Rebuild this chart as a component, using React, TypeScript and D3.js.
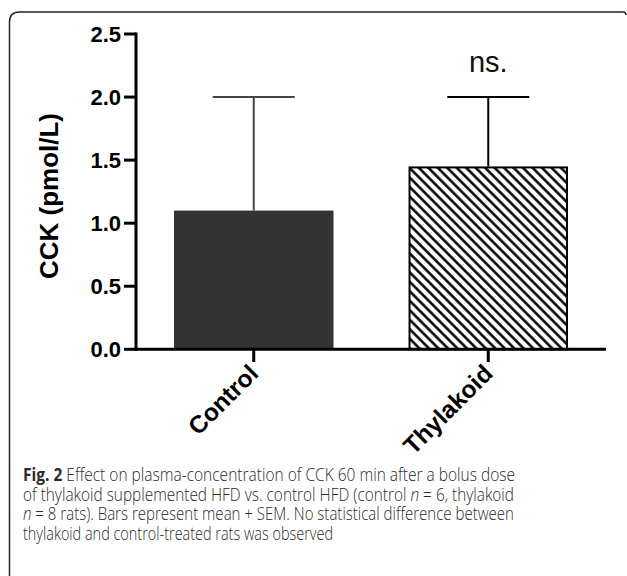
import React from "react";
import * as d3 from "d3";

const categories = ["Control", "Thylakoid"];
const means = [1.1, 1.45];
const sems = [0.9, 0.55];
const yTicks = [0, 0.5, 1.0, 1.5, 2.0, 2.5];
const yLabel = "CCK (pmol/L)";
const sigLabel = "ns.";

const W = 627;
const H = 576;

export default function App() {
  const y = d3.scaleLinear().domain([0, 2.5]).range([349.3, 34]);
  const x = d3
    .scaleBand<string>()
    .domain(categories)
    .range([136, 606])
    .paddingInner(0.32)
    .paddingOuter(0.162);
  const bw = x.bandwidth();
  const capHalf = bw * 0.257;
  const font = "'Liberation Sans', Arial, Helvetica, sans-serif";
  const capFont = "'Open Sans', 'Noto Sans', sans-serif";

  return (
    <svg
      width={W}
      height={H}
      style={{ position: "absolute", left: 0, top: 0 }}
      xmlns="http://www.w3.org/2000/svg"
    >
      <defs>
        <pattern
          id="hatch"
          patternUnits="userSpaceOnUse"
          width={6.7}
          height={6.7}
          patternTransform="rotate(45)"
        >
          <rect width={6.7} height={6.7} fill="#fff" />
          <line x1={0} y1={3.35} x2={6.7} y2={3.35} stroke="#000" strokeWidth={2.5} />
        </pattern>
      </defs>
      <rect width={W} height={H} fill="#fff" />
      {/* frame */}
      <path
        d={`M9.5,${H} L9.5,22 Q9.5,12 19.5,12 L623,12 Q626,12 626,15`}
        fill="none"
        stroke="#222"
        strokeWidth={1.5}
      />

      {/* bars */}
      {categories.map((c, i) => {
        const x0 = x(c)!;
        const top = y(means[i]);
        return i === 0 ? (
          <rect key={c} x={x0} y={top} width={bw} height={y(0) - top} fill="#333333" />
        ) : (
          <rect
            key={c}
            x={x0 + 1}
            y={top + 1}
            width={bw - 2}
            height={y(0) - top - 1}
            fill="url(#hatch)"
            stroke="#000"
            strokeWidth={2}
          />
        );
      })}

      {/* error bars */}
      {categories.map((c, i) => {
        const cx = x(c)! + bw / 2;
        const top = y(means[i] + sems[i]);
        const col = i === 0 ? "#444" : "#000";
        return (
          <g key={c} stroke={col} strokeWidth={2}>
            <line x1={cx} x2={cx} y1={top} y2={y(means[i])} />
            <line x1={cx - capHalf} x2={cx + capHalf} y1={top} y2={top} />
          </g>
        );
      })}

      {/* y axis */}
      <line x1={136} x2={136} y1={y(2.5) - 1.5} y2={y(0) + 1.5} stroke="#000" strokeWidth={3} />
      {yTicks.map((t) => (
        <g key={t}>
          <line x1={124} x2={136} y1={y(t)} y2={y(t)} stroke="#000" strokeWidth={3} />
          <text
            x={121}
            y={y(t)}
            dy="0.36em"
            textAnchor="end"
            fontFamily={font}
            fontWeight="bold"
            fontSize={22}
            fill="#000"
          >
            {t.toFixed(1)}
          </text>
        </g>
      ))}
      <text
        transform={`translate(58,196) rotate(-90)`}
        textAnchor="middle"
        fontFamily={font}
        fontWeight="bold"
        fontSize={26}
        fill="#000"
      >
        {yLabel}
      </text>

      {/* x axis */}
      <line x1={134.5} x2={606} y1={y(0)} y2={y(0)} stroke="#000" strokeWidth={3} />
      {categories.map((c) => {
        const cx = x(c)! + bw / 2;
        return (
          <g key={c}>
            <line x1={cx} x2={cx} y1={y(0)} y2={362} stroke="#000" strokeWidth={3} />
            <text
              transform={`translate(${cx + 6},${375}) rotate(-45)`}
              textAnchor="end"
              fontFamily={font}
              fontWeight="bold"
              fontSize={24.5}
              fill="#000"
            >
              {c}
            </text>
          </g>
        );
      })}

      {/* significance */}
      <text
        x={x("Thylakoid")! + bw / 2}
        y={72}
        textAnchor="middle"
        fontFamily={font}
        fontSize={29}
        fill="#111"
      >
        {sigLabel}
      </text>

      {/* caption */}
      <g fontFamily={capFont} fontSize={18.5} fontWeight={300} fill="#2a2a2a">
        <text x={23} y={481} textLength={492} lengthAdjust="spacingAndGlyphs">
          <tspan fontWeight="bold">Fig. 2</tspan> Effect on plasma-concentration of CCK 60 min after a bolus dose
        </text>
        <text x={23} y={500.5} textLength={491} lengthAdjust="spacingAndGlyphs">
          of thylakoid supplemented HFD vs. control HFD (control <tspan fontStyle="italic">n</tspan> = 6, thylakoid
        </text>
        <text x={23} y={520} textLength={491} lengthAdjust="spacingAndGlyphs">
          <tspan fontStyle="italic">n</tspan> = 8 rats). Bars represent mean + SEM. No statistical difference between
        </text>
        <text x={23} y={539.5} textLength={310} lengthAdjust="spacingAndGlyphs">
          thylakoid and control-treated rats was observed
        </text>
      </g>
    </svg>
  );
}
